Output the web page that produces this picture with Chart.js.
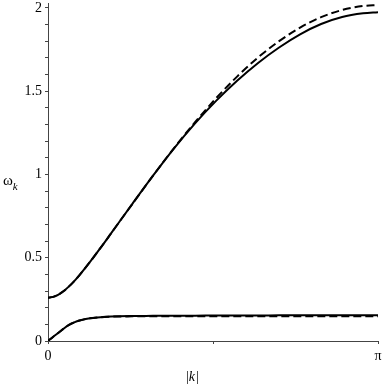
<!DOCTYPE html>
<html>
<head>
<meta charset="utf-8">
<script src="https://cdn.jsdelivr.net/npm/chart.js@4.4.0/dist/chart.umd.min.js"></script>
<style>
  html, body { margin: 0; padding: 0; background: #fff; }
  #wrap { width: 382px; height: 384px; }
</style>
</head>
<body>
<div id="wrap"><canvas id="dispersion" width="382" height="384"></canvas></div>
<script>
// wave number |k| from 0 to pi
const k = [0, 0.05, 0.1, 0.15, 0.2, 0.25, 0.3, 0.4, 0.5, 0.6, 0.8, 1.0, 1.2, 1.4, 1.6, 1.8, 2.0, 2.2, 2.4, 2.6, 2.8, 3.0, 3.1416];

// upper branch
const upperDashed = [0.26, 0.265, 0.279, 0.300, 0.328, 0.360, 0.396, 0.475, 0.559, 0.646, 0.821, 0.993, 1.159, 1.314, 1.458, 1.588, 1.703, 1.801, 1.882, 1.945, 1.988, 2.012, 2.017];
const upperSolid = [0.26, 0.265, 0.279, 0.300, 0.328, 0.360, 0.396, 0.475, 0.559, 0.646, 0.821, 0.993, 1.157, 1.307, 1.442, 1.563, 1.670, 1.763, 1.842, 1.904, 1.946, 1.968, 1.975];

// lower branch
const lowerSolid = [0, 0.026, 0.050, 0.075, 0.097, 0.112, 0.123, 0.136, 0.143, 0.147, 0.150, 0.151, 0.152, 0.152, 0.153, 0.153, 0.153, 0.154, 0.154, 0.154, 0.155, 0.155, 0.155];
const lowerDashed = [0, 0.026, 0.050, 0.075, 0.097, 0.112, 0.123, 0.136, 0.143, 0.146, 0.148, 0.149, 0.149, 0.149, 0.149, 0.149, 0.149, 0.149, 0.149, 0.149, 0.149, 0.149, 0.149];

const xTicks = [0, Math.PI / 2, Math.PI];
const xTickLabels = ['0', '', 'π'];
const yMajor = [0, 0.5, 1, 1.5, 2];

function pts(ys) {
    return k.map((x, i) => ({ x: x, y: ys[i] }));
}

function line(data, dashed) {
    return {
        data: pts(data),
        borderColor: '#000',
        borderWidth: 2,
        borderDash: dashed ? [8, 4] : [],
        pointRadius: 0,
        fill: false,
        cubicInterpolationMode: 'monotone'
    };
}

const serif = 'Liberation Serif, Times New Roman, serif';

// axis titles: |k| and omega_k with italic k
const axisTitles = {
    id: 'axisTitles',
    afterDraw(chart) {
        const ctx = chart.ctx;
        ctx.save();
        ctx.fillStyle = '#000';
        ctx.textBaseline = 'alphabetic';
        ctx.textAlign = 'left';
        // x title
        ctx.font = '14px ' + serif;
        let x = 186, y = 381;
        ctx.fillText('|', x, y);
        x += ctx.measureText('|').width;
        ctx.font = 'italic 14px ' + serif;
        ctx.fillText('k', x, y);
        x += ctx.measureText('k').width + 1;
        ctx.font = '14px ' + serif;
        ctx.fillText('|', x, y);
        // y title
        ctx.font = '15px ' + serif;
        ctx.fillText('ω', 3, 185);
        const w = ctx.measureText('ω').width;
        ctx.font = 'italic 11px ' + serif;
        ctx.fillText('k', 3 + w, 190);
        ctx.restore();
    }
};

new Chart(document.getElementById('dispersion'), {
    type: 'line',
    data: {
        datasets: [
            line(upperSolid, false),
            line(upperDashed, true),
            line(lowerSolid, false),
            line(lowerDashed, true)
        ]
    },
    options: {
        responsive: false,
        animation: false,
        layout: { padding: { top: 3, right: 4, left: 0, bottom: 0 } },
        plugins: { legend: { display: false }, tooltip: { enabled: false } },
        scales: {
            x: {
                type: 'linear',
                min: 0,
                max: Math.PI,
                afterBuildTicks: (axis) => { axis.ticks = xTicks.map(v => ({ value: v })); },
                afterFit: (axis) => {
                    axis.height = 43;
                    axis.paddingLeft = 0;
                    axis.paddingRight = 0;
                },
                ticks: {
                    autoSkip: false,
                    maxRotation: 0,
                    padding: 4,
                    color: '#000',
                    font: { family: serif, size: 14 },
                    callback: (v) => xTickLabels[xTicks.indexOf(v)]
                },
                grid: { drawOnChartArea: false, tickLength: 3, color: '#444' },
                border: { color: '#444', width: 1 }
            },
            y: {
                min: 0,
                max: 2.03,
                afterBuildTicks: (axis) => {
                    const t = [];
                    for (let i = 0; i <= 20; i++) t.push({ value: i / 10 });
                    axis.ticks = t;
                },
                afterFit: (axis) => {
                    axis.width = 48;
                    axis.paddingTop = 0;
                    axis.paddingBottom = 0;
                },
                ticks: {
                    autoSkip: false,
                    padding: 3,
                    color: '#000',
                    font: { family: serif, size: 14 },
                    callback: (v) => {
                        const m = yMajor.find(q => Math.abs(q - v) < 1e-6);
                        return m === undefined ? '' : String(m);
                    }
                },
                grid: { drawOnChartArea: false, tickLength: 3, color: '#444' },
                border: { color: '#444', width: 1 }
            }
        }
    },
    plugins: [axisTitles]
});
</script>
</body>
</html>
